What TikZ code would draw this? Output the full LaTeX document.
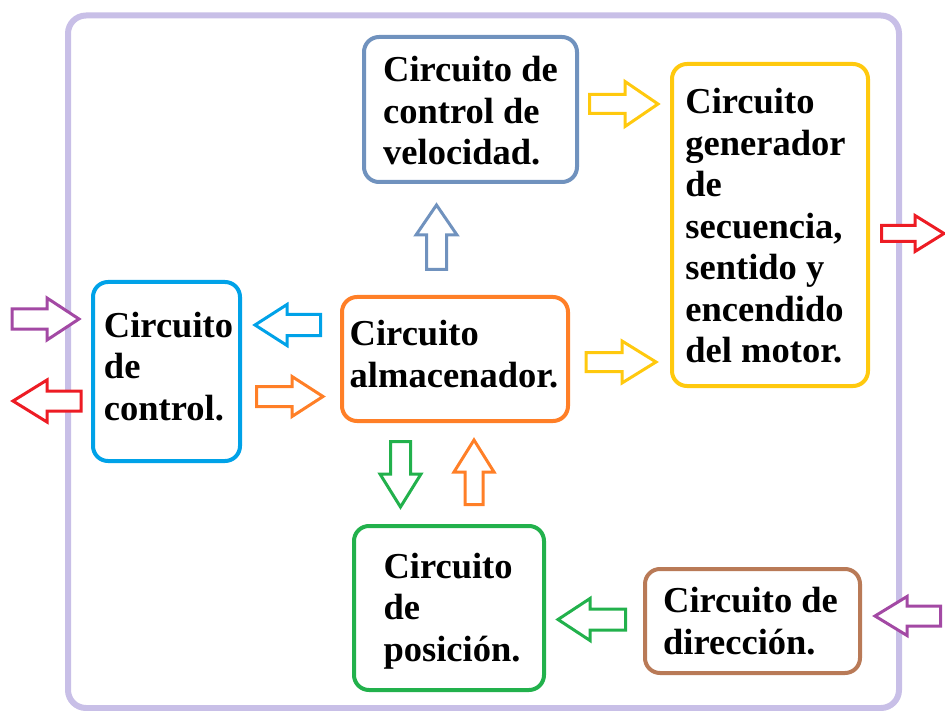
\documentclass[tikz,border=0pt]{standalone}
\usepackage{fontspec}
\setmainfont{Liberation Serif}
\definecolor{lav}{RGB}{200,191,231}
\definecolor{pcyan}{RGB}{0,162,232}
\definecolor{porange}{RGB}{255,127,39}
\definecolor{pyellow}{RGB}{255,201,14}
\definecolor{pgreen}{RGB}{34,177,76}
\definecolor{pbrown}{RGB}{185,122,87}
\definecolor{pblue}{RGB}{112,146,190}
\definecolor{ppurple}{RGB}{163,73,164}
\definecolor{pred}{RGB}{237,28,36}
\tikzset{
  box/.style={draw=#1, line width=4pt, rounded corners=15pt, inner sep=0pt},
  boxtext/.style={align=left, inner sep=0pt, text=black,
    font=\fontsize{36.5}{41.5}\selectfont\bfseries},
  barrow/.style={draw=#1, line width=3pt, fill=white, line join=miter}
}
% horizontal block arrow: colour, tail x, head base x, tip x, centre y, shaft half, head half
\newcommand\harrow[7]{%
  \draw[barrow=#1] ({#2},{#5-#6}) -- ({#3},{#5-#6}) -- ({#3},{#5-#7}) -- ({#4},{#5})
    -- ({#3},{#5+#7}) -- ({#3},{#5+#6}) -- ({#2},{#5+#6}) -- cycle;}
% vertical block arrow: colour, tail y, head base y, tip y, centre x, shaft half, head half
\newcommand\varrow[7]{%
  \draw[barrow=#1] ({#5-#6},{#2}) -- ({#5-#6},{#3}) -- ({#5-#7},{#3}) -- ({#5},{#4})
    -- ({#5+#7},{#3}) -- ({#5+#6},{#3}) -- ({#5+#6},{#2}) -- cycle;}
\begin{document}
\begin{tikzpicture}[x=1pt,y=-1pt]
\useasboundingbox (0,0) rectangle (945,711);
\draw[lav, line width=6pt, rounded corners=18pt] (68,15.5) rectangle (899,708);

\node[box=pcyan, minimum width=147pt, minimum height=179pt] (ctrl) at (166.5,371.5) {};
\node[boxtext, xshift=2pt, yshift=5pt] (ctrl-t) at (ctrl) {Circuito\\de\\control.};
\node[box=pblue, minimum width=213pt, minimum height=145pt] (vel) at (470.5,109.5) {};
\node[boxtext, yshift=-1.5pt] (vel-t) at (vel) {Circuito de\\control de\\velocidad.};
\node[box=porange, minimum width=226pt, minimum height=124pt] (alm) at (455,359) {};
\node[boxtext, xshift=-1pt, yshift=5pt] (alm-t) at (alm) {Circuito\\almacenador.};
\node[box=pyellow, minimum width=196pt, minimum height=322pt] (gen) at (770,225) {};
\node[boxtext, xshift=-4.5pt, yshift=-1pt] (gen-t) at (gen)
  {Circuito\\generador\\de\\secuencia,\\sentido y\\encendido\\del motor.};
\node[box=pgreen, minimum width=190pt, minimum height=164pt] (pos) at (449,608) {};
\node[boxtext, xshift=3pt, yshift=-3pt] (pos-t) at (pos) {Circuito\\de\\posición.};
\node[box=pbrown, minimum width=215pt, minimum height=104pt] (dir) at (752.5,621) {};
\node[boxtext, xshift=-2pt] (dir-t) at (dir) {Circuito de\\dirección.};

\harrow{ppurple}{12}{47}{79}{319}{10}{21}
\harrow{pred}{81}{47}{13}{401}{10}{21}
\harrow{pcyan}{320.5}{287}{255}{325}{10.5}{20.5}
\harrow{porange}{256.5}{292}{323}{396.5}{10}{20}
\harrow{pyellow}{589.5}{625}{658}{104}{9.5}{22.5}
\harrow{pyellow}{586}{622}{656}{362}{9.5}{21}
\harrow{pred}{881.5}{915}{944}{233.5}{8}{18}
\harrow{pgreen}{625.5}{590}{558}{619.5}{10.5}{21}
\harrow{ppurple}{940.5}{907}{875}{616}{10}{19.5}
\varrow{pblue}{269.5}{235}{205}{436.5}{10}{20.5}
\varrow{pgreen}{441.5}{474}{507}{400.5}{10}{20.5}
\varrow{porange}{504.5}{472}{440}{474}{9}{20}
\end{tikzpicture}
\end{document}
